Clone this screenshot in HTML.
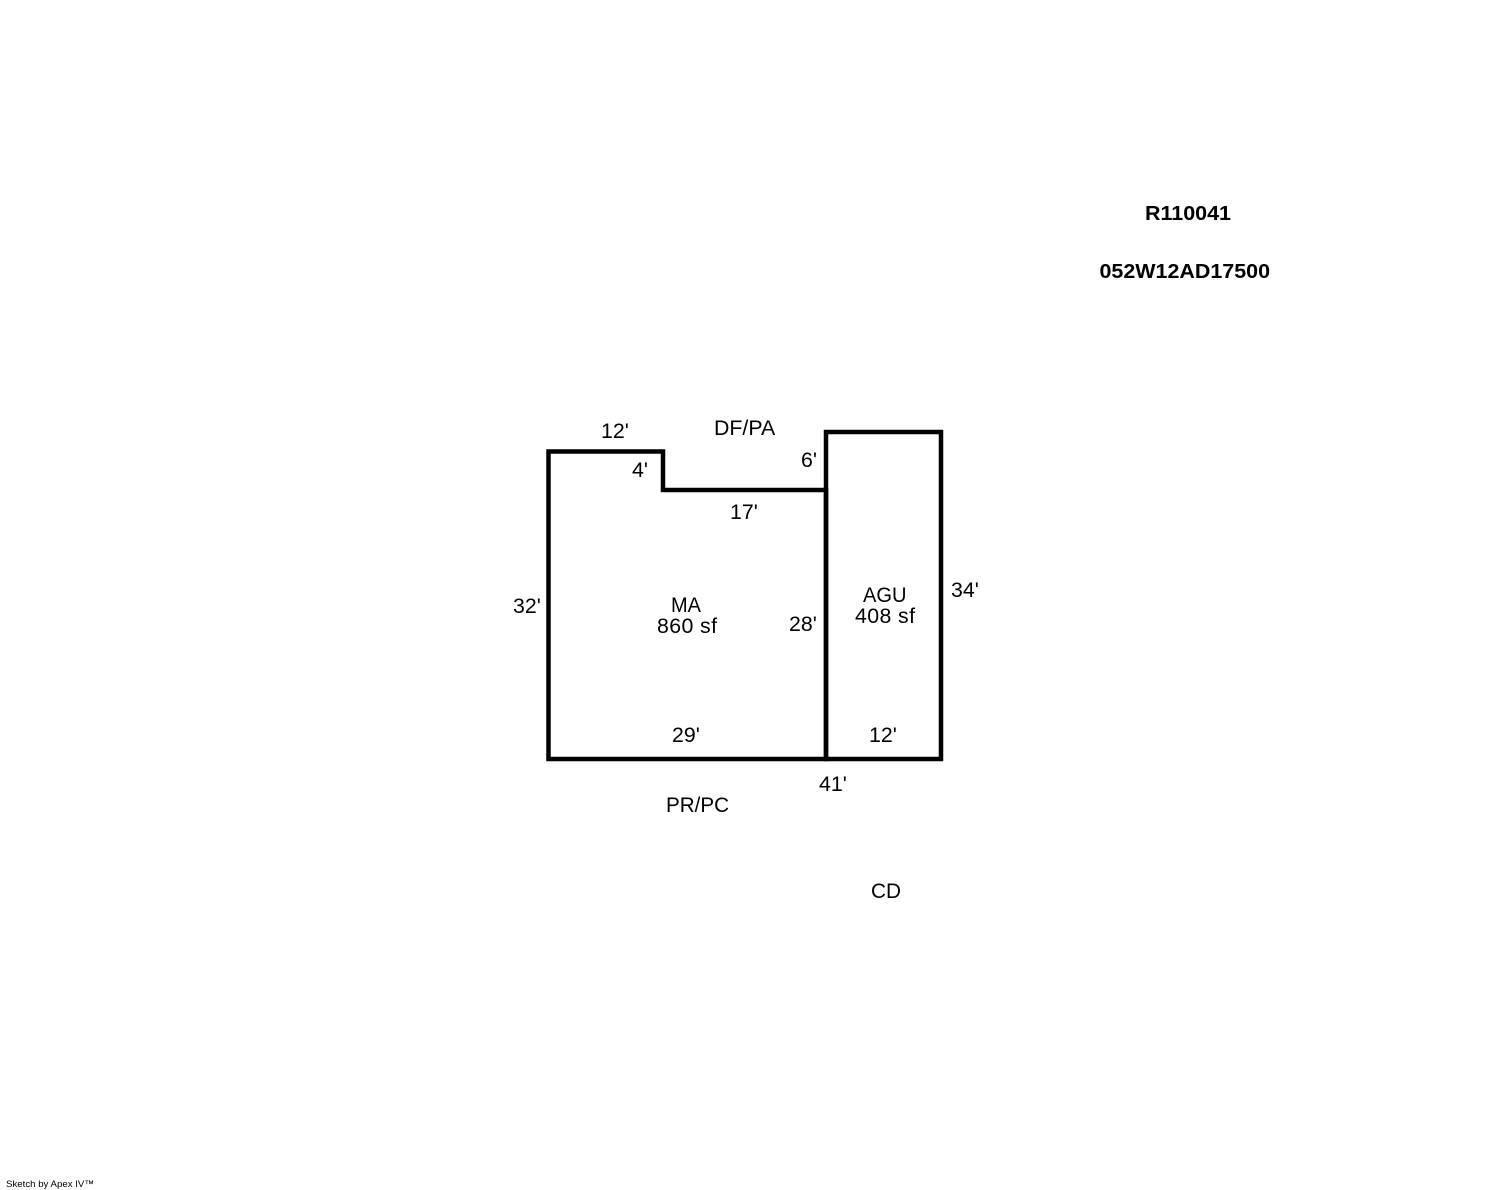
<!DOCTYPE html>
<html>
<head>
<meta charset="utf-8">
<style>
html,body{margin:0;padding:0;background:#fff;width:1488px;height:1190px;overflow:hidden}
svg{display:block}
text{font-family:"Liberation Sans",Arial,sans-serif;font-size:21.33px;fill:#000}
</style>
</head>
<body>
<svg width="1488" height="1190" viewBox="0 0 1488 1190" xmlns="http://www.w3.org/2000/svg">
<rect width="1488" height="1190" fill="#fff"/>
<g fill="none" stroke="#000" stroke-width="4.5" stroke-linejoin="miter">
<path d="M548.5 451.5H663V490H826V759H548.5Z"/>
<path d="M826 432H941V759H826Z"/>
</g>
<text x="1145" y="220" font-weight="bold" style="font-size:20px" textLength="86" lengthAdjust="spacingAndGlyphs">R110041</text>
<text x="1099.5" y="278" font-weight="bold" style="font-size:20px" textLength="170.5" lengthAdjust="spacingAndGlyphs">052W12AD17500</text>
<text x="601" y="438">12'</text>
<text x="714" y="435">DF/PA</text>
<text x="801" y="467">6'</text>
<text x="632" y="477">4'</text>
<text x="730" y="519">17'</text>
<text x="513" y="613">32'</text>
<text x="671" y="612" textLength="30" lengthAdjust="spacingAndGlyphs">MA</text>
<text x="657" y="633" textLength="60" lengthAdjust="spacing">860 sf</text>
<text x="789" y="631">28'</text>
<text x="863" y="602" textLength="43.5" lengthAdjust="spacingAndGlyphs">AGU</text>
<text x="855" y="623" textLength="60" lengthAdjust="spacing">408 sf</text>
<text x="951" y="597">34'</text>
<text x="672" y="742">29'</text>
<text x="869" y="742">12'</text>
<text x="819" y="791">41'</text>
<text x="666" y="812" textLength="63" lengthAdjust="spacingAndGlyphs">PR/PC</text>
<text x="871" y="898" textLength="30" lengthAdjust="spacingAndGlyphs">CD</text>
<text x="6" y="1187" style="font-size:9.5px" textLength="88" lengthAdjust="spacingAndGlyphs">Sketch by Apex IV™</text>
</svg>
</body>
</html>
